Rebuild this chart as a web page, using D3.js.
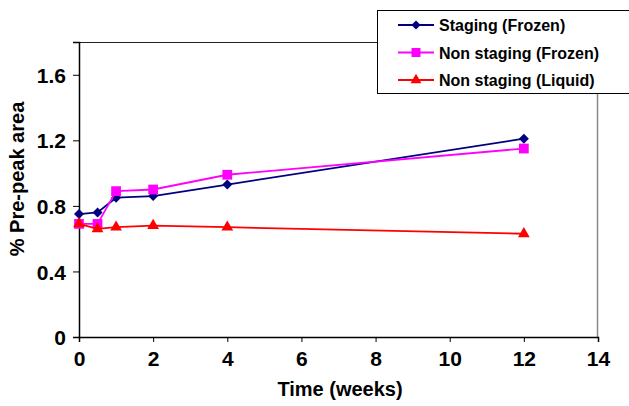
<!DOCTYPE html>
<html>
<head>
<meta charset="utf-8">
<script src="https://cdn.jsdelivr.net/npm/d3@7"></script>
<style>
  html, body { margin: 0; padding: 0; background: #fff; }
  svg { display: block; font-family: "Liberation Sans", Arial, sans-serif; }
</style>
</head>
<body>
<svg id="chart" width="629" height="406"></svg>
<script>
// Time points (weeks) and % pre-peak area per condition
const weeks = [0, 0.5, 1, 2, 4, 12];
const stagingFrozen = [0.75, 0.76, 0.85, 0.86, 0.93, 1.21];
const nonStagingFrozen = [0.69, 0.69, 0.89, 0.90, 0.99, 1.15];
const nonStagingLiquid = [0.69, 0.66, 0.67, 0.68, 0.67, 0.63];
const xTicks = [0, 2, 4, 6, 8, 10, 12, 14];
const yTicks = [0, 0.4, 0.8, 1.2, 1.6];
const seriesNames = ["Staging (Frozen)", "Non staging (Frozen)", "Non staging (Liquid)"];

// Square-proportioned diamond marker (rotated square)
const symbolRhombus = {
  draw(ctx, size) {
    const r = Math.sqrt(size / 2);
    ctx.moveTo(0, -r); ctx.lineTo(r, 0); ctx.lineTo(0, r); ctx.lineTo(-r, 0); ctx.closePath();
  }
};

const series = [
  { name: seriesNames[0], values: stagingFrozen, color: "#000080", symbol: symbolRhombus, size: 50 },
  { name: seriesNames[1], values: nonStagingFrozen, color: "#ff00ff", symbol: d3.symbolSquare, size: 95 },
  { name: seriesNames[2], values: nonStagingLiquid, color: "#ff0000", symbol: d3.symbolTriangle, size: 60 }
];

const svg = d3.select("#chart");
const plotL = 79, plotR = 598, plotT = 42, plotB = 337;
const font = "'Liberation Sans', Arial, sans-serif";

const x = d3.scaleLinear().domain([0, 14]).range([plotL, plotR]);
const y = d3.scaleLinear().domain([0, 1.8]).range([plotB, plotT]);

// Plot frame: top edge dark, right edge grey
svg.append("line").attr("x1", plotL).attr("x2", plotR).attr("y1", plotT + 0.5).attr("y2", plotT + 0.5)
  .attr("stroke", "#222").attr("stroke-width", 1);
svg.append("line").attr("x1", plotR - 0.5).attr("x2", plotR - 0.5).attr("y1", plotT).attr("y2", plotB)
  .attr("stroke", "#888").attr("stroke-width", 1.5);

// Axes
const xAxis = svg.append("g").attr("transform", `translate(0,${plotB})`)
  .call(d3.axisBottom(x).tickValues(xTicks).tickSize(5).tickPadding(5).tickFormat(d3.format("d")));
const yAxis = svg.append("g").attr("transform", `translate(${plotL},0)`)
  .call(d3.axisLeft(y).tickValues(yTicks).tickSize(6).tickPadding(7).tickFormat(d => d === 0 ? "0" : d3.format(".1f")(d)));

[xAxis, yAxis].forEach(g => {
  g.selectAll("path.domain").attr("stroke", "#000").attr("stroke-width", 1.5);
  g.selectAll(".tick line").attr("stroke", "#000").attr("stroke-width", 1);
  g.selectAll("text").attr("fill", "#000").style("font-size", "21px").style("font-weight", "bold")
    .style("font-family", font);
});
xAxis.selectAll("text").attr("dy", "0.92em");
yAxis.selectAll("text").attr("dy", "0.36em");

// Axis titles
svg.append("text").attr("x", 340).attr("y", 396).attr("text-anchor", "middle")
  .style("font-size", "20px").style("font-weight", "bold").style("font-family", font)
  .text("Time (weeks)");
svg.append("text").attr("transform", `translate(24,179) rotate(-90)`)
  .attr("text-anchor", "middle").style("font-size", "20px").style("font-weight", "bold")
  .style("font-family", font).text("% Pre-peak area");

// Lines and markers
const line = d3.line().x((d, i) => x(weeks[i])).y(d => y(d));
series.forEach(s => {
  svg.append("path").datum(s.values).attr("d", line)
    .attr("fill", "none").attr("stroke", s.color).attr("stroke-width", 1.8);
  svg.append("g").selectAll("path").data(s.values).join("path")
    .attr("transform", (d, i) => `translate(${x(weeks[i])},${y(d)})`)
    .attr("d", d3.symbol().type(s.symbol).size(s.size)())
    .attr("fill", s.color);
});

// Legend
const lg = svg.append("g");
lg.append("rect").attr("x", 377.5).attr("y", 10.5).attr("width", 260).attr("height", 83)
  .attr("fill", "#fff").attr("stroke", "#000").attr("stroke-width", 1);
series.forEach((s, i) => {
  const cy = 25 + i * 27.5;
  lg.append("line").attr("x1", 398).attr("x2", 434).attr("y1", cy).attr("y2", cy)
    .attr("stroke", s.color).attr("stroke-width", 1.8);
  lg.append("path").attr("transform", `translate(416,${cy})`)
    .attr("d", d3.symbol().type(s.symbol).size(s.size * 0.85)()).attr("fill", s.color);
  lg.append("text").attr("x", 439).attr("y", cy + 6).style("font-size", "16px")
    .style("font-weight", "bold").style("font-family", font).attr("fill", "#000").text(s.name);
});
</script>
</body>
</html>
